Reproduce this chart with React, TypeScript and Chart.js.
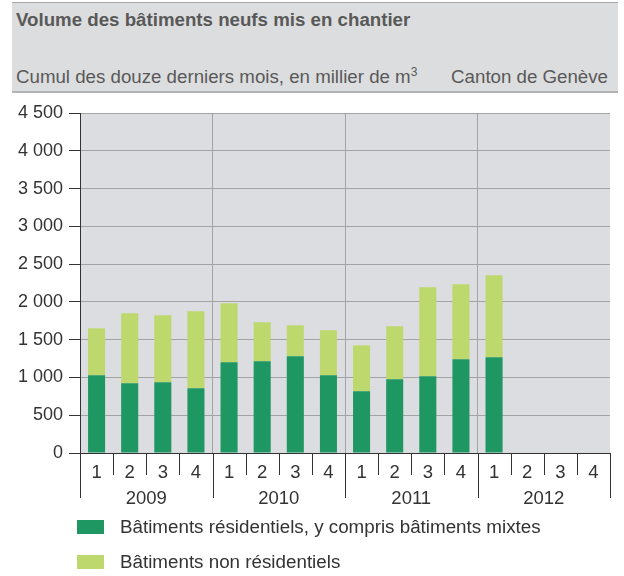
import React, { useEffect, useRef } from "react";
import { Chart, registerables } from "chart.js";

Chart.register(...registerables);

const quarterLabels = ["1", "2", "3", "4", "1", "2", "3", "4", "1", "2", "3", "4", "1", "2", "3", "4"];
const yearLabels = ["2009", "2010", "2011", "2012"];
const residentiel = [1028, 922, 936, 856, 1200, 1213, 1280, 1028, 817, 975, 1015, 1240, 1267, null, null, null];
const nonResidentiel = [622, 927, 886, 1019, 781, 517, 410, 596, 608, 702, 1178, 993, 1085, null, null, null];
const yTickLabels = ["0", "500", "1 000", "1 500", "2 000", "2 500", "3 000", "3 500", "4 000", "4 500"];
const seriesNames = ["Bâtiments résidentiels, y compris bâtiments mixtes", "Bâtiments non résidentiels"];
const titleText = "Volume des bâtiments neufs mis en chantier";
const subtitleText = "Cumul des douze derniers mois, en millier de m";
const regionText = "Canton de Genève";

const FONT = "'Liberation Sans', Arial, Helvetica, sans-serif";
const DARK = "#1f9763";
const LIGHT = "#bdd96d";
const BG = "#dcdde0";
const GRID = "#a3a3a3";
const AXIS = "#333333";

export default function App() {
  const ref = useRef<HTMLCanvasElement | null>(null);

  useEffect(() => {
    if (!ref.current) return;
    const bgPlugin = {
      id: "plotBg",
      beforeDraw(chart: any) {
        const { ctx, chartArea } = chart;
        ctx.save();
        ctx.fillStyle = BG;
        ctx.fillRect(chartArea.left, chartArea.top, chartArea.right - chartArea.left, chartArea.bottom - chartArea.top);
        ctx.restore();
      },
    };
    const sepPlugin = {
      id: "xSeparators",
      afterDraw(chart: any) {
        const { ctx, chartArea } = chart;
        const n = quarterLabels.length;
        const w = (chartArea.right - chartArea.left) / n;
        ctx.save();
        ctx.strokeStyle = AXIS;
        ctx.lineWidth = 1;
        for (let i = 0; i <= n; i++) {
          const x = Math.round(chartArea.left + i * w) + 0.5;
          const len = i % 4 === 0 ? 45 : 22;
          ctx.beginPath();
          ctx.moveTo(x, chartArea.bottom);
          ctx.lineTo(x, chartArea.bottom + len);
          ctx.stroke();
        }
        ctx.fillStyle = AXIS;
        ctx.font = `18.5px ${FONT}`;
        ctx.textAlign = "center";
        ctx.textBaseline = "middle";
        yearLabels.forEach((y, j) => {
          const x = chartArea.left + (j * 4 + 2) * w;
          ctx.fillText(y, x, chartArea.bottom + 46);
        });
        ctx.restore();
      },
    };
    const chart = new Chart(ref.current, {
      type: "bar",
      data: {
        labels: quarterLabels,
        datasets: [
          { label: seriesNames[0], data: residentiel as any, backgroundColor: DARK, borderWidth: 0 },
          { label: seriesNames[1], data: nonResidentiel as any, backgroundColor: LIGHT, borderWidth: 0 },
        ],
      },
      options: {
        animation: false,
        responsive: false,
        devicePixelRatio: 1,
        layout: { padding: { left: 0, right: 14, top: 113, bottom: 0 } },
        datasets: { bar: { categoryPercentage: 1, barPercentage: 0.515 } },
        plugins: { legend: { display: false }, tooltip: { enabled: false }, title: { display: false } },
        scales: {
          x: {
            stacked: true,
            grid: {
              offset: true,
              drawTicks: false,
              color: (c: any) => (c.index % 4 === 0 ? GRID : "rgba(0,0,0,0)"),
              lineWidth: 1,
            },
            border: { display: true, color: AXIS, width: 1 },
            ticks: { color: AXIS, font: { size: 18.5, family: FONT }, padding: 9, maxRotation: 0, autoSkip: false },
            afterFit: (s: any) => {
              s.height = 123;
            },
          },
          y: {
            stacked: true,
            min: 0,
            max: 4500,
            grid: { color: GRID, tickColor: AXIS, tickLength: 11, lineWidth: 1 },
            border: { display: true, color: AXIS, width: 1 },
            ticks: {
              stepSize: 500,
              color: AXIS,
              padding: 6,
              font: { size: 18, family: FONT },
              callback: (_v: any, i: number) => yTickLabels[i],
            },
            afterFit: (s: any) => {
              s.width = 80;
            },
          },
        },
      },
      plugins: [bgPlugin, sepPlugin],
    });
    return () => chart.destroy();
  }, []);

  const textBase: React.CSSProperties = { position: "absolute", whiteSpace: "nowrap", lineHeight: "20px", fontFamily: FONT };

  return (
    <div style={{ position: "absolute", left: 0, top: 0, width: 624, height: 576, background: "#fff", overflow: "hidden" }}>
      <div
        style={{
          position: "absolute",
          left: 12,
          top: 2,
          width: 606,
          height: 88,
          background: "#dcdddf",
          borderTop: "1px solid #a8a8a8",
          borderBottom: "2px solid #b3b3b3",
        }}
      />
      <div style={{ ...textBase, left: 16, top: 10, fontSize: 18.7, fontWeight: "bold", color: "#595959" }}>{titleText}</div>
      <div style={{ ...textBase, left: 16, top: 67, fontSize: 18.7, color: "#595959" }}>
        {subtitleText}
        <sup style={{ fontSize: 12, lineHeight: 0, verticalAlign: "7px" }}>3</sup>
      </div>
      <div style={{ ...textBase, right: 16, top: 67, fontSize: 18.7, color: "#595959" }}>{regionText}</div>
      <canvas ref={ref} width={624} height={576} style={{ position: "absolute", left: 0, top: 0, width: 624, height: 576 }} />
      <div style={{ position: "absolute", left: 77, top: 520, width: 27, height: 14, background: DARK }} />
      <div style={{ ...textBase, left: 120, top: 517, fontSize: 18.8, color: AXIS }}>{seriesNames[0]}</div>
      <div style={{ position: "absolute", left: 77, top: 555, width: 27, height: 14, background: LIGHT }} />
      <div style={{ ...textBase, left: 120, top: 552, fontSize: 18.8, color: AXIS }}>{seriesNames[1]}</div>
    </div>
  );
}
